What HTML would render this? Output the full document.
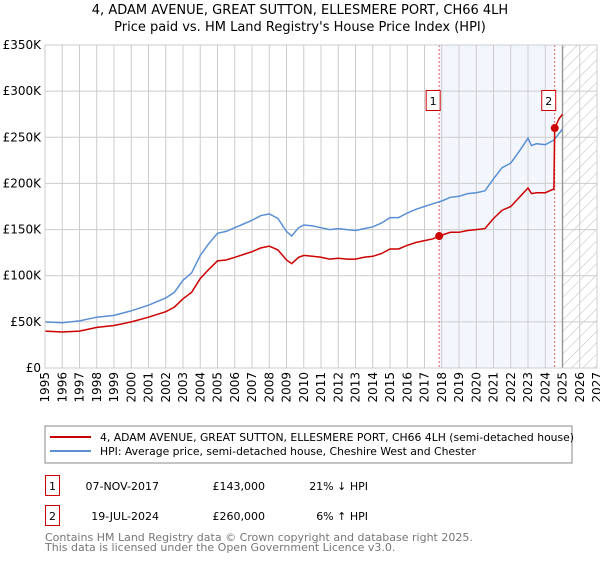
<!DOCTYPE html>
<html><head><meta charset="utf-8"><style>
body{margin:0;background:#fff;font-family:"DejaVu Sans","Liberation Sans",sans-serif;}
svg text{font-family:"DejaVu Sans","Liberation Sans",sans-serif;}
</style></head><body>
<svg id="c" width="600" height="560" viewBox="0 0 600 560">
<defs><pattern id="hatch" width="8" height="8" patternUnits="userSpaceOnUse" patternTransform="rotate(45)"><line x1="0" y1="0" x2="0" y2="8" stroke="#bbb" stroke-width="1"/></pattern></defs>
<text x="300" y="14" text-anchor="middle" font-size="13">4, ADAM AVENUE, GREAT SUTTON, ELLESMERE PORT, CH66 4LH</text>
<text x="300" y="31" text-anchor="middle" font-size="13">Price paid vs. HM Land Registry's House Price Index (HPI)</text>
<g id="plot"></g>
<rect x="45" y="426" width="527" height="37" fill="#fff" stroke="#888"/>
<line x1="50" y1="437" x2="91" y2="437" stroke="#cc0000" stroke-width="2"/>
<text x="100" y="441" font-size="10.8">4, ADAM AVENUE, GREAT SUTTON, ELLESMERE PORT, CH66 4LH (semi-detached house)</text>
<line x1="50" y1="451" x2="91" y2="451" stroke="#5b8fd4" stroke-width="2"/>
<text x="100" y="455" font-size="10.8">HPI: Average price, semi-detached house, Cheshire West and Chester</text>
<g>
<rect x="45.5" y="475.5" width="14" height="20" fill="none" stroke="#cc0000"/>
<text x="52.5" y="490" text-anchor="middle" font-size="11">1</text>
<text x="159" y="490" text-anchor="end" font-size="11">07-NOV-2017</text>
<text x="265" y="490" text-anchor="end" font-size="11">£143,000</text>
<text x="368" y="490" text-anchor="end" font-size="11">21% ↓ HPI</text></g>
<g>
<rect x="45.5" y="505.5" width="14" height="20" fill="none" stroke="#cc0000"/>
<text x="52.5" y="520" text-anchor="middle" font-size="11">2</text>
<text x="159" y="520" text-anchor="end" font-size="11">19-JUL-2024</text>
<text x="265" y="520" text-anchor="end" font-size="11">£260,000</text>
<text x="368" y="520" text-anchor="end" font-size="11">6% ↑ HPI</text></g>
<text x="45" y="541" font-size="11" fill="#777">Contains HM Land Registry data © Crown copyright and database right 2025.</text>
<text x="45" y="551" font-size="11" fill="#777">This data is licensed under the Open Government Licence v3.0.</text>
</svg>
<script>
const hpiYears=[1995,1996,1997,1998,1999,2000,2001,2002,2002.5,2003,2003.5,2004,2004.5,2005,2005.5,2006,2006.5,2007,2007.5,2008,2008.5,2009,2009.3,2009.7,2010,2010.5,2011,2011.5,2012,2012.5,2013,2013.5,2014,2014.5,2015,2015.5,2016,2016.5,2017,2017.5,2018,2018.5,2019,2019.5,2020,2020.5,2021,2021.5,2022,2022.5,2023,2023.2,2023.5,2024,2024.5,2025];
const hpiValues=[50,49,51,55,57,62,68,76,82,95,103,122,135,146,148,152,156,160,165,167,162,148,143,152,155,154,152,150,151,150,149,151,153,157,163,163,168,172,175,178,181,185,186,189,190,192,205,217,222,235,249,241,243,242,247,259];
const propYears=[1995,1996,1997,1998,1999,2000,2001,2002,2002.5,2003,2003.5,2004,2004.5,2005,2005.5,2006,2006.5,2007,2007.5,2008,2008.5,2009,2009.3,2009.7,2010,2010.5,2011,2011.5,2012,2012.5,2013,2013.5,2014,2014.5,2015,2015.5,2016,2016.5,2017,2017.5,2017.85,2018.5,2019,2019.5,2020,2020.5,2021,2021.5,2022,2022.5,2023,2023.2,2023.5,2024,2024.5,2024.55,2024.8,2025];
const propValues=[40,39,40,44,46,50,55,61,66,75,82,97,107,116,117,120,123,126,130,132,128,117,113,120,122,121,120,118,119,118,118,120,121,124,129,129,133,136,138,140,143,147,147,149,150,151,162,171,175,185,195,189,190,190,194,260,270,275];
const saleYears=[2017.85,2024.55];
const saleValues=[143,260];
const saleLabels=["1","2"];
const yTicks=[0,50,100,150,200,250,300,350];
const yTickLabels=["£0","£50K","£100K","£150K","£200K","£250K","£300K","£350K"];
const xTicks=[1995,1996,1997,1998,1999,2000,2001,2002,2003,2004,2005,2006,2007,2008,2009,2010,2011,2012,2013,2014,2015,2016,2017,2018,2019,2020,2021,2022,2023,2024,2025,2026,2027];
const L=45,R=597,T=45,B=368,X0=1995,X1=2027,YMAX=350,FORECAST=2025.0;
const X=v=>L+(v-X0)/(X1-X0)*(R-L);
const Y=v=>B-v/YMAX*(B-T);
const NS="http://www.w3.org/2000/svg";
const g=document.getElementById('plot');
function mk(tag,attrs,parent){const e=document.createElementNS(NS,tag);for(const k in attrs)e.setAttribute(k,attrs[k]);(parent||g).appendChild(e);return e;}
let e=mk('rect',{x:X(saleYears[0]),y:T,width:X(saleYears[1])-X(saleYears[0]),height:B-T,fill:'#eef3fc',opacity:0.7});


e=mk('rect',{x:X(FORECAST),y:T,width:R-X(FORECAST),height:B-T,fill:'url(#hatch)'});


yTicks.forEach((t,i)=>{
 let l=mk('line',{x1:L,x2:R,y1:Y(t),y2:Y(t),stroke:'#ccc'});
 
 
 let tx=mk('text',{x:L-4,y:Y(t)+4,'text-anchor':'end','font-size':12});
 tx.textContent=yTickLabels[i];
 
 
});
xTicks.forEach(t=>{
 let l=mk('line',{x1:X(t),x2:X(t),y1:T,y2:B,stroke:'#ccc'});
 
 
 let tx=mk('text',{x:0,y:0,'text-anchor':'end','font-size':12,transform:`translate(${X(t)+4},${B+4}) rotate(-90)`});
 tx.textContent=t;
 
 
});
e=mk('line',{x1:X(FORECAST),x2:X(FORECAST),y1:T,y2:B,stroke:'#999','stroke-width':1.5});


saleYears.forEach((s,i)=>{
 let l=mk('line',{x1:X(s),x2:X(s),y1:T,y2:B,stroke:'#e06060','stroke-dasharray':'2,2'});
 
 
});
function path(xs,vs,col,name){
 let d=xs.map((x,i)=>(i?'L':'M')+X(x).toFixed(1)+','+Y(vs[i]).toFixed(1)).join('');
 let p=mk('path',{d:d,fill:'none',stroke:col,'stroke-width':1.5});
 
 
}
path(hpiYears,hpiValues,'#5b8fd4','hpi-line');
path(propYears,propValues,'#cc0000','property-line');
saleYears.forEach((s,i)=>{
 let c=mk('circle',{cx:X(s),cy:Y(saleValues[i]),r:4,fill:'#cc0000'});
 
 
 let bx=X(s)-8-5;
 let r=mk('rect',{x:bx,y:90.5,width:14,height:20,fill:'#fff',stroke:'#cc0000'});
 
 
 let tx=mk('text',{x:bx+7,y:105,'text-anchor':'middle','font-size':11});
 tx.textContent=saleLabels[i];
 
 
});
e=mk('rect',{x:L,y:T,width:R-L,height:B-T,fill:'none',stroke:'#ccc'});


</script>
</body></html>
